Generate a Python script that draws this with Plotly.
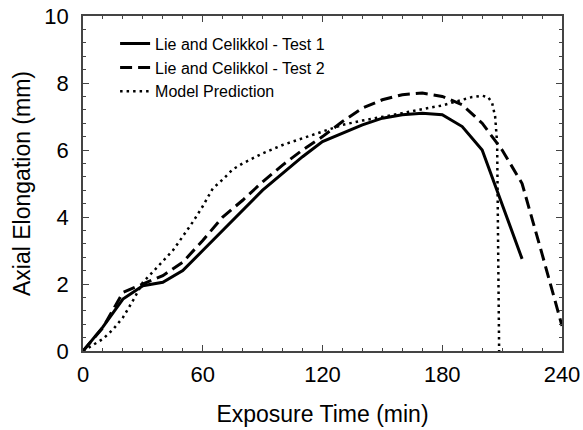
import plotly.graph_objects as go

# Lie and Celikkol - Test 1
t1 = [0, 10, 20, 30, 40, 50, 60, 70, 80, 90, 100, 110, 120, 130, 140, 150, 160, 170, 180, 190, 200, 220]
v1 = [0, 0.72, 1.55, 1.95, 2.05, 2.4, 3.0, 3.6, 4.2, 4.8, 5.3, 5.8, 6.25, 6.5, 6.75, 6.95, 7.05, 7.1, 7.05, 6.7, 6.0, 2.75]

# Lie and Celikkol - Test 2
t2 = [0, 10, 20, 30, 40, 50, 60, 70, 80, 90, 100, 110, 120, 130, 140, 150, 160, 170, 180, 190, 200, 210, 220, 230, 240]
v2 = [0, 0.7, 1.75, 2.0, 2.25, 2.65, 3.3, 4.0, 4.5, 5.05, 5.55, 6.0, 6.4, 6.85, 7.25, 7.5, 7.65, 7.7, 7.6, 7.35, 6.8, 6.0, 5.0, 2.9, 0.75]

# Model Prediction
tm = [0, 5, 10, 15, 20, 25, 30, 35, 40, 45, 50, 55, 60, 65, 70, 75, 80, 90, 100, 110, 120, 130, 140,
      150, 160, 170, 180, 190, 195, 200, 203, 205, 206.5, 207.5, 208.5]
vm = [0, 0.18, 0.36, 0.64, 1.0, 1.5, 2.05, 2.36, 2.68, 3.0, 3.42, 3.85, 4.32, 4.85, 5.12, 5.42, 5.6, 5.9,
      6.15, 6.35, 6.55, 6.75, 6.88, 6.98, 7.1, 7.22, 7.33, 7.5, 7.58, 7.62, 7.58, 7.4, 7.0, 6.2, 0]

names = ["Lie and Celikkol - Test 1", "Lie and Celikkol - Test 2", "Model Prediction"]

FONT = "Arial, Liberation Sans"

fig = go.Figure()
fig.add_trace(go.Scatter(x=t1, y=v1, mode="lines", name=names[0],
                         line=dict(color="black", width=3, dash="solid")))
fig.add_trace(go.Scatter(x=t2, y=v2, mode="lines", name=names[1],
                         line=dict(color="black", width=3, dash="12px,6px")))
fig.add_trace(go.Scatter(x=tm, y=vm, mode="lines", name=names[2],
                         line=dict(color="black", width=2.5, dash="2.5px,4px")))

axis_common = dict(
    showline=True, linecolor="#444", linewidth=1.5, mirror="ticks",
    ticks="inside", ticklen=6, tickwidth=1.2, tickcolor="#444",
    showgrid=False, zeroline=False, automargin=False,
    tickfont=dict(family=FONT, size=22, color="black"),
    title_font=dict(family=FONT, size=23, color="black"),
)

fig.update_xaxes(range=[0, 240], tickvals=[0, 60, 120, 180, 240],
                 minor=dict(ticks="inside", dtick=10, ticklen=3, tickwidth=1, tickcolor="#444"),
                 ticklabelstandoff=3,
                 title_text="Exposure Time (min)", title_standoff=20, **axis_common)
fig.update_yaxes(range=[0, 10], tickvals=[0, 2, 4, 6, 8, 10],
                 minor=dict(ticks="inside", dtick=0.4, ticklen=3, tickwidth=1, tickcolor="#444"),
                 ticklabelstandoff=8,
                 title_text="Axial Elongation (mm)", title_standoff=7, **axis_common)

fig.update_layout(
    width=583, height=430,
    margin=dict(l=83, r=21, t=16, b=79),
    plot_bgcolor="white", paper_bgcolor="white",
    showlegend=True,
    legend=dict(x=0.067, y=0.968, xanchor="left", yanchor="top",
                bgcolor="rgba(0,0,0,0)", tracegroupgap=0,
                font=dict(family=FONT, size=16, color="black")),
)

fig.write_html("out.html")
